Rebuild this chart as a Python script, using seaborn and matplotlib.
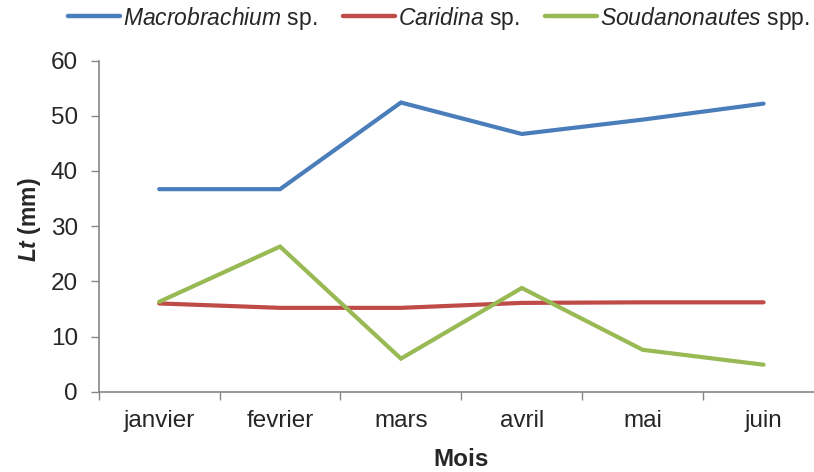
import matplotlib
matplotlib.use("Agg")
import matplotlib.pyplot as plt
import seaborn as sns
import pandas as pd
import numpy as np

months = ["janvier", "fevrier", "mars", "avril", "mai", "juin"]
macrobrachium = [36.7, 36.7, 52.4, 46.7, 49.3, 52.2]
caridina = [16.0, 15.2, 15.2, 16.1, 16.2, 16.2]
soudanonautes = [16.3, 26.3, 6.0, 18.8, 7.6, 4.9]
series_names = [r"$\mathit{Macrobrachium}$ sp.", r"$\mathit{Caridina}$ sp.", r"$\mathit{Soudanonautes}$ spp."]
colors = ["#4A7EBB", "#BE4B48", "#98B954"]
yticks = [0, 10, 20, 30, 40, 50, 60]

sns.set_theme(style="white")
plt.rcParams["font.family"] = ["Liberation Sans", "DejaVu Sans"]
plt.rcParams["mathtext.fontset"] = "custom"
plt.rcParams["mathtext.rm"] = "Liberation Sans"
plt.rcParams["mathtext.it"] = "Liberation Sans:italic"
plt.rcParams["mathtext.bf"] = "Liberation Sans:bold"
plt.rcParams["mathtext.bfit"] = "Liberation Sans:italic:bold"

FS = 17.5
LFS = 16.5

rows = []
for name, vals in zip(series_names, [macrobrachium, caridina, soudanonautes]):
    for i, (m, v) in enumerate(zip(months, vals)):
        rows.append({"pos": i, "mois": m, "valeur": v, "serie": name})
df = pd.DataFrame(rows)

fig = plt.figure(figsize=(8.14, 4.72), dpi=100)
ax = fig.add_axes([0.1213, 0.170, 0.891, 0.7017])

sns.lineplot(data=df, x="pos", y="valeur", hue="serie", palette=colors,
             linewidth=3.0, ax=ax, legend=True)
for ln in ax.lines:
    ln.set_solid_capstyle("round")
    ln.set_solid_joinstyle("miter")

ax.set_xlim(-0.5, len(months) - 0.5)
ax.set_ylim(0, 60)
ax.set_yticks(yticks)
ax.set_yticklabels([str(t) for t in yticks], fontsize=FS)

ax.set_xticks(np.arange(-0.5, len(months) + 0.5, 1.0))
ax.set_xticklabels([])
ax.set_xticks(np.arange(len(months)), minor=True)
ax.set_xticklabels(months, minor=True, fontsize=FS)
ax.tick_params(axis="x", which="major", direction="out", length=6, width=1, color="#868686", bottom=True)
ax.tick_params(axis="x", which="minor", length=0, pad=13, bottom=True)
ax.tick_params(axis="y", direction="out", length=6, width=1, color="#868686", left=True, pad=9)

for s in ["top", "right"]:
    ax.spines[s].set_visible(False)
for s in ["left", "bottom"]:
    ax.spines[s].set_color("#868686")
    ax.spines[s].set_linewidth(1.2)

ax.set_xlabel("Mois", fontsize=FS, fontweight="bold", labelpad=12)
ax.set_ylabel(r"$\mathbfit{Lt}$ (mm)", fontsize=16.5, fontweight="bold")
ax.yaxis.set_label_coords(-0.0775, 0.521)

handles, labels = ax.get_legend_handles_labels()
leg = fig.legend(handles, labels, loc="center left", bbox_to_anchor=(68 / 814, 1 - 18 / 472),
                 ncol=3, frameon=False, fontsize=LFS, handlelength=2.27,
                 handletextpad=0.13, columnspacing=1.1, borderaxespad=0, borderpad=0)
for lh in leg.get_lines():
    lh.set_linewidth(3.2)
    lh.set_solid_capstyle("round")
ax.get_legend().remove()

fig.savefig("out.png", dpi=100)
